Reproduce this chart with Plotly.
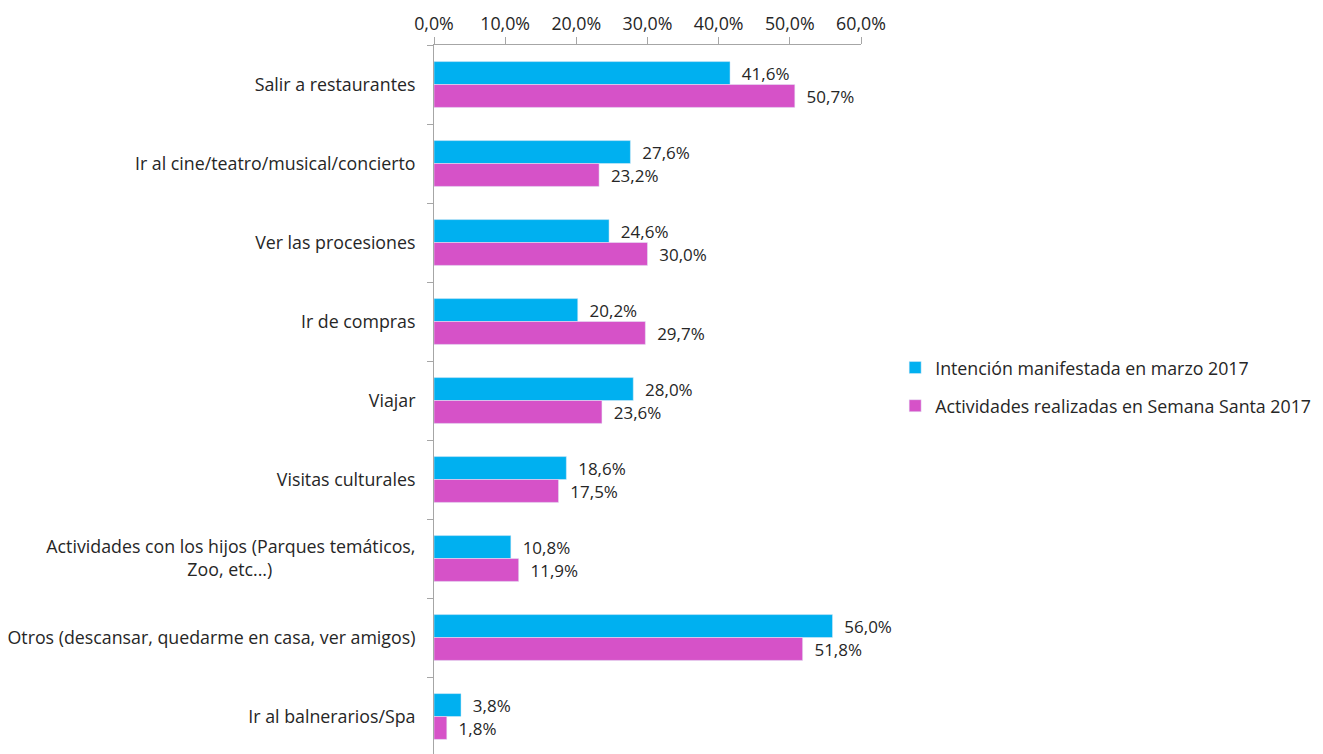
import plotly.graph_objects as go

categories = [
    "Salir a restaurantes",
    "Ir al cine/teatro/musical/concierto",
    "Ver las procesiones",
    "Ir de compras",
    "Viajar",
    "Visitas culturales",
    "Actividades con los hijos (Parques temáticos,<br>Zoo, etc...)" + "\u00a0" * 31,
    "Otros (descansar, quedarme en casa, ver amigos)",
    "Ir al balnerarios/Spa",
]
intencion = [41.6, 27.6, 24.6, 20.2, 28.0, 18.6, 10.8, 56.0, 3.8]
realizadas = [50.7, 23.2, 30.0, 29.7, 23.6, 17.5, 11.9, 51.8, 1.8]
series_names = ["Intención manifestada en marzo 2017", "Actividades realizadas en Semana Santa 2017"]
tick_vals = [0, 10, 20, 30, 40, 50, 60]
tick_text = ["0,0%", "10,0%", "20,0%", "30,0%", "40,0%", "50,0%", "60,0%"]

FONT = "Open Sans"
FS = 17.8
TXT = "#262626"

fig = go.Figure()
fig.add_trace(go.Bar(
    y=categories, x=intencion, name=series_names[0], orientation="h",
    marker=dict(color="#00B0F0"), legendgroup="a",
    texttemplate="\u00a0\u00a0%{x:.1f}%", textposition="outside",
    textfont=dict(family=FONT, size=FS, color=TXT), cliponaxis=False,
))
fig.add_trace(go.Bar(
    y=categories, x=realizadas, name=series_names[1], orientation="h",
    marker=dict(color="#D652C8"), legendgroup="b",
    texttemplate="\u00a0\u00a0%{x:.1f}%", textposition="outside",
    textfont=dict(family=FONT, size=FS, color=TXT), cliponaxis=False,
))

fig.update_layout(
    width=1323, height=756,
    margin=dict(l=434, r=462, t=45, b=0, autoexpand=False),
    paper_bgcolor="white", plot_bgcolor="white",
    barmode="group", bargap=0.42, bargroupgap=0,
    separators=",.",
    font=dict(family=FONT, size=FS, color=TXT),
    showlegend=True,
    legend=dict(x=1.08, y=0.519, xanchor="left", yanchor="middle",
                traceorder="grouped", font=dict(family=FONT, size=FS, color=TXT),
                itemwidth=30, tracegroupgap=12),
)
fig.update_xaxes(
    side="top", range=[0, 60], tickvals=tick_vals, ticktext=tick_text,
    showgrid=False, zeroline=False, showline=True, linecolor="#A6A6A6", linewidth=1,
    ticks="outside", ticklen=7, tickcolor="#A6A6A6", automargin=False,
    tickfont=dict(family=FONT, size=FS, color=TXT),
)
fig.update_yaxes(
    type="category", autorange="reversed", automargin=False,
    showgrid=False, showline=True, linecolor="#A6A6A6", linewidth=1,
    ticks="outside", ticklen=6, tickcolor="#A6A6A6", tickson="boundaries",
    tickfont=dict(family=FONT, size=FS, color=TXT), ticklabelstandoff=14,
)

fig.write_html(
    "out.html",
    config={"displayModeBar": False},
    post_script="document.body.style.margin='0';document.body.style.overflow='hidden';",
)
